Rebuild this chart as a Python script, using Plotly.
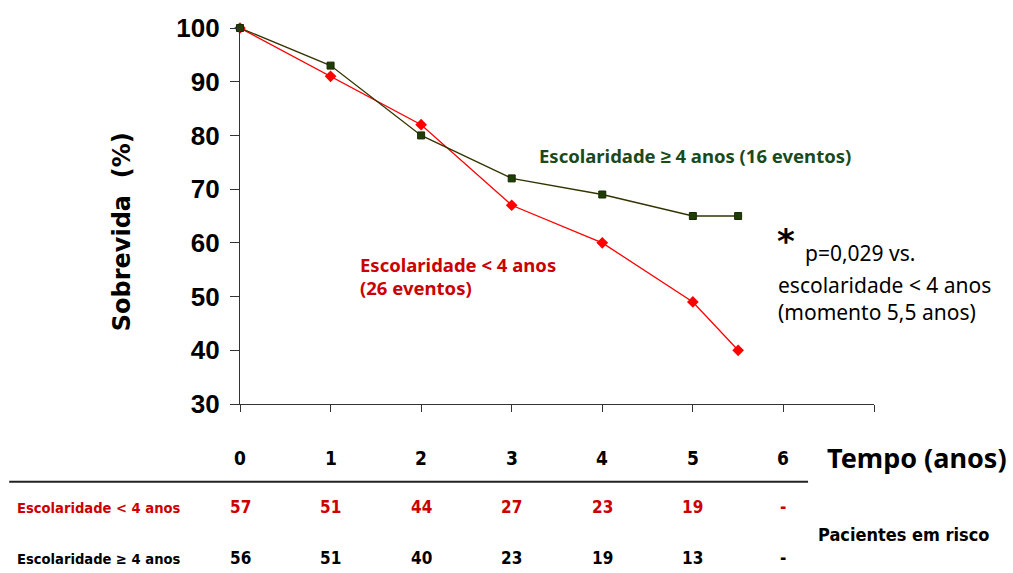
import plotly.graph_objects as go

# ---- data ----
time_high = [0, 1, 2, 3, 4, 5, 5.5]
surv_high = [100, 93, 80, 72, 69, 65, 65]          # Escolaridade >= 4 anos
time_low = [0, 1, 2, 3, 4, 5, 5.5]
surv_low = [100, 91, 82, 67, 60, 49, 40]           # Escolaridade < 4 anos

table_times = [0, 1, 2, 3, 4, 5, 6]
risk_low = ["57", "51", "44", "27", "23", "19", "-"]
risk_high = ["56", "51", "40", "23", "19", "13", "-"]

RED = "#ff0000"
RED_TXT = "#cc0000"
GREEN_TXT = "#1a4a1a"
GREEN_LINE = "#333300"
GREEN_MK = "#1f3d06"

COMIC = "Comic Sans MS, Noto Sans, sans-serif"
NARROW = "Liberation Sans Narrow, Arial Narrow, DejaVu Sans Condensed, sans-serif"
ARIAL = "Liberation Sans, Arial, sans-serif"

fig = go.Figure()
fig.add_trace(go.Scatter(
    x=time_low, y=surv_low, mode="lines+markers",
    line=dict(color=RED, width=1.3),
    marker=dict(symbol="diamond", size=9, color=RED, line=dict(width=0)),
    cliponaxis=False, showlegend=False, hoverinfo="skip"))
fig.add_trace(go.Scatter(
    x=time_high, y=surv_high, mode="lines+markers",
    line=dict(color=GREEN_LINE, width=1.3),
    marker=dict(symbol="square", size=7, color=GREEN_MK, line=dict(color="#1a2a00", width=1)),
    cliponaxis=False, showlegend=False, hoverinfo="skip"))

ann = []
# in-plot labels
ann.append(dict(x=3.28, y=76.2, xref="x", yref="y", xanchor="left", yanchor="middle",
                text="<b>Escolaridade ≥ 4 anos (16 eventos)</b>", showarrow=False,
                font=dict(family=COMIC, size=18.5, color=GREEN_TXT)))
ann.append(dict(x=1.30, y=56.0, xref="x", yref="y", xanchor="left", yanchor="middle",
                text="<b>Escolaridade &lt; 4 anos</b>", showarrow=False,
                font=dict(family=COMIC, size=18.5, color=RED_TXT)))
ann.append(dict(x=1.30, y=51.7, xref="x", yref="y", xanchor="left", yanchor="middle",
                text="<b>(26 eventos)</b>", showarrow=False,
                font=dict(family=COMIC, size=18.5, color=RED_TXT)))
# p-value note
ann.append(dict(x=5.91, y=60.3, xref="x", yref="y", xanchor="left", yanchor="middle",
                text="<b>*</b>", showarrow=False,
                font=dict(family="DejaVu Sans", size=34, color="#000000")))
ann.append(dict(x=6.22, y=58.2, xref="x", yref="y", xanchor="left", yanchor="middle",
                text="p=0,029 vs.", showarrow=False,
                font=dict(family=COMIC, size=21, color="#000000")))
ann.append(dict(x=5.92, y=52.1, xref="x", yref="y", xanchor="left", yanchor="middle",
                text="escolaridade &lt; 4 anos", showarrow=False,
                font=dict(family=COMIC, size=21, color="#000000")))
ann.append(dict(x=5.92, y=47.1, xref="x", yref="y", xanchor="left", yanchor="middle",
                text="(momento 5,5 anos)", showarrow=False,
                font=dict(family=COMIC, size=21, color="#000000")))

# y-axis title
ann.append(dict(x=-0.186, y=0.457, xref="paper", yref="paper", xanchor="center", yanchor="middle",
                text="<b>Sobrevida  (%)</b>", textangle=-90, showarrow=False,
                font=dict(family="DejaVu Sans, Verdana, sans-serif", size=24, color="#000000")))

# time row / table
Y_TIME = -0.1436
Y_LOW = -0.274
Y_HIGH = -0.4096
for t, rl, rh in zip(table_times, risk_low, risk_high):
    ann.append(dict(x=t, y=Y_TIME, xref="x", yref="paper", xanchor="center", yanchor="middle",
                    text=f"<b>{t}</b>", showarrow=False,
                    font=dict(family=NARROW, size=19, color="#000000")))
    ann.append(dict(x=t, y=Y_LOW, xref="x", yref="paper", xanchor="center", yanchor="middle",
                    text=f"<b>{rl}</b>", showarrow=False,
                    font=dict(family=NARROW, size=17, color=RED_TXT)))
    ann.append(dict(x=t, y=Y_HIGH, xref="x", yref="paper", xanchor="center", yanchor="middle",
                    text=f"<b>{rh}</b>", showarrow=False,
                    font=dict(family=NARROW, size=17, color="#000000")))

ann.append(dict(x=1.068, y=Y_TIME, xref="paper", yref="paper", xanchor="center", yanchor="middle",
                text="<b>Tempo (anos)</b>", showarrow=False,
                font=dict(family=COMIC, size=27, color="#000000")))
ann.append(dict(x=-0.355, y=Y_LOW, xref="paper", yref="paper", xanchor="left", yanchor="middle",
                text="<b>Escolaridade &lt; 4 anos</b>", showarrow=False,
                font=dict(family=NARROW, size=14.6, color=RED_TXT)))
ann.append(dict(x=-0.355, y=Y_HIGH, xref="paper", yref="paper", xanchor="left", yanchor="middle",
                text="<b>Escolaridade ≥ 4 anos</b>", showarrow=False,
                font=dict(family=NARROW, size=14.6, color="#000000")))
ann.append(dict(x=1.046, y=-0.348, xref="paper", yref="paper", xanchor="center", yanchor="middle",
                text="<b>Pacientes em risco</b>", showarrow=False,
                font=dict(family=NARROW, size=18, color="#000000")))

fig.update_layout(
    width=1013, height=573,
    margin=dict(l=240, r=139, t=28, b=169),
    paper_bgcolor="white", plot_bgcolor="white",
    annotations=ann,
    shapes=[dict(type="line", xref="paper", yref="paper", x0=-0.364, x1=0.896,
                 y0=-0.207, y1=-0.207, line=dict(color="#222222", width=2))],
    xaxis=dict(range=[0, 7], tickmode="linear", tick0=0, dtick=1, ticks="outside",
               ticklen=7, tickwidth=1.3, tickcolor="#333333", showticklabels=False,
               showline=True, linecolor="#333333", linewidth=1.3, showgrid=False, zeroline=False),
    yaxis=dict(range=[30, 100], tickmode="linear", tick0=30, dtick=10, ticks="outside",
               ticklen=9, tickwidth=1.3, tickcolor="#333333",
               tickfont=dict(family=ARIAL, size=26, color="#000000"),
               ticklabelstandoff=5,
               showline=True, linecolor="#333333", linewidth=1.3, showgrid=False, zeroline=False),
)
fig.update_yaxes(tickprefix="<b>", ticksuffix="</b>")

fig.write_html("out.html")
